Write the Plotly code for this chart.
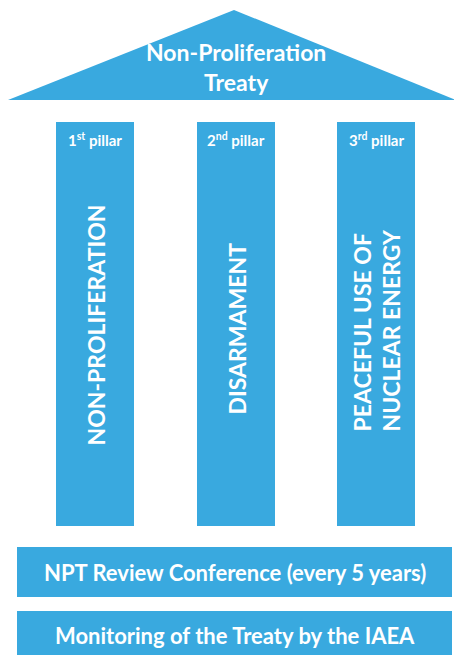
import plotly.graph_objects as go

# ---- content ----
roof_title = ["Non-Proliferation", "Treaty"]
pillar_headers = ["1<sup>st</sup> pillar", "2<sup>nd</sup> pillar", "3<sup>rd</sup> pillar"]
pillar_texts = ["NON-PROLIFERATION", "DISARMAMENT", "PEACEFUL USE OF<br>NUCLEAR ENERGY"]
base_texts = ["NPT Review Conference (every 5 years)", "Monitoring of the Treaty by the IAEA"]

BLUE = "#39A9DF"
FONT = "Lato"
W, H = 454, 655

fig = go.Figure()

# roof (triangle) as a filled scatter
roof_x = [8, 234, 456, 8]
roof_y = [100, 10, 100, 100]
fig.add_trace(go.Scatter(x=roof_x, y=roof_y, fill="toself", fillcolor=BLUE,
                         line=dict(width=0, color=BLUE), mode="lines",
                         hoverinfo="skip", showlegend=False))

shapes = []
pillar_x = [(56, 134), (197, 275), (337, 415)]
pillar_text_y = [325, 329, 330]
for (x0, x1) in pillar_x:
    shapes.append(dict(type="rect", x0=x0, x1=x1, y0=122, y1=526,
                       fillcolor=BLUE, line=dict(width=0), layer="below"))
base_y = [(547, 597), (611, 660)]
for (y0, y1) in base_y:
    shapes.append(dict(type="rect", x0=17, x1=452, y0=y0, y1=y1,
                       fillcolor=BLUE, line=dict(width=0), layer="below"))

ann = []
ann.append(dict(x=236, y=67, text="<br>".join(roof_title), showarrow=False,
                font=dict(family=FONT, size=23, color="white", weight="bold"),
                xanchor="center", yanchor="middle"))
for (x0, x1), hdr, txt, ty in zip(pillar_x, pillar_headers, pillar_texts, pillar_text_y):
    cx = (x0 + x1) / 2
    ann.append(dict(x=cx, y=139, text=hdr, showarrow=False,
                    font=dict(family=FONT, size=15, color="white", weight="bold"),
                    xanchor="center", yanchor="middle"))
    ann.append(dict(x=cx + 0.5, y=ty, text=txt, showarrow=False, textangle=-90,
                    align="left",
                    font=dict(family=FONT, size=23, color="white", weight="bold"),
                    xanchor="center", yanchor="middle"))
for (y0, y1), txt, yc in zip(base_y, base_texts, [572, 635]):
    ann.append(dict(x=235, y=yc, text=txt, showarrow=False,
                    font=dict(family=FONT, size=22, color="white", weight="bold"),
                    xanchor="center", yanchor="middle"))

fig.update_layout(
    width=W, height=H, margin=dict(l=0, r=0, t=0, b=0),
    paper_bgcolor="white", plot_bgcolor="white",
    xaxis=dict(range=[0, W], visible=False, fixedrange=True),
    yaxis=dict(range=[H, 0], visible=False, fixedrange=True),
    shapes=shapes, annotations=ann, showlegend=False,
)
fig.write_html("out.html", config={"displayModeBar": False},
               post_script="document.body.style.margin='0';document.body.style.overflow='hidden';")
